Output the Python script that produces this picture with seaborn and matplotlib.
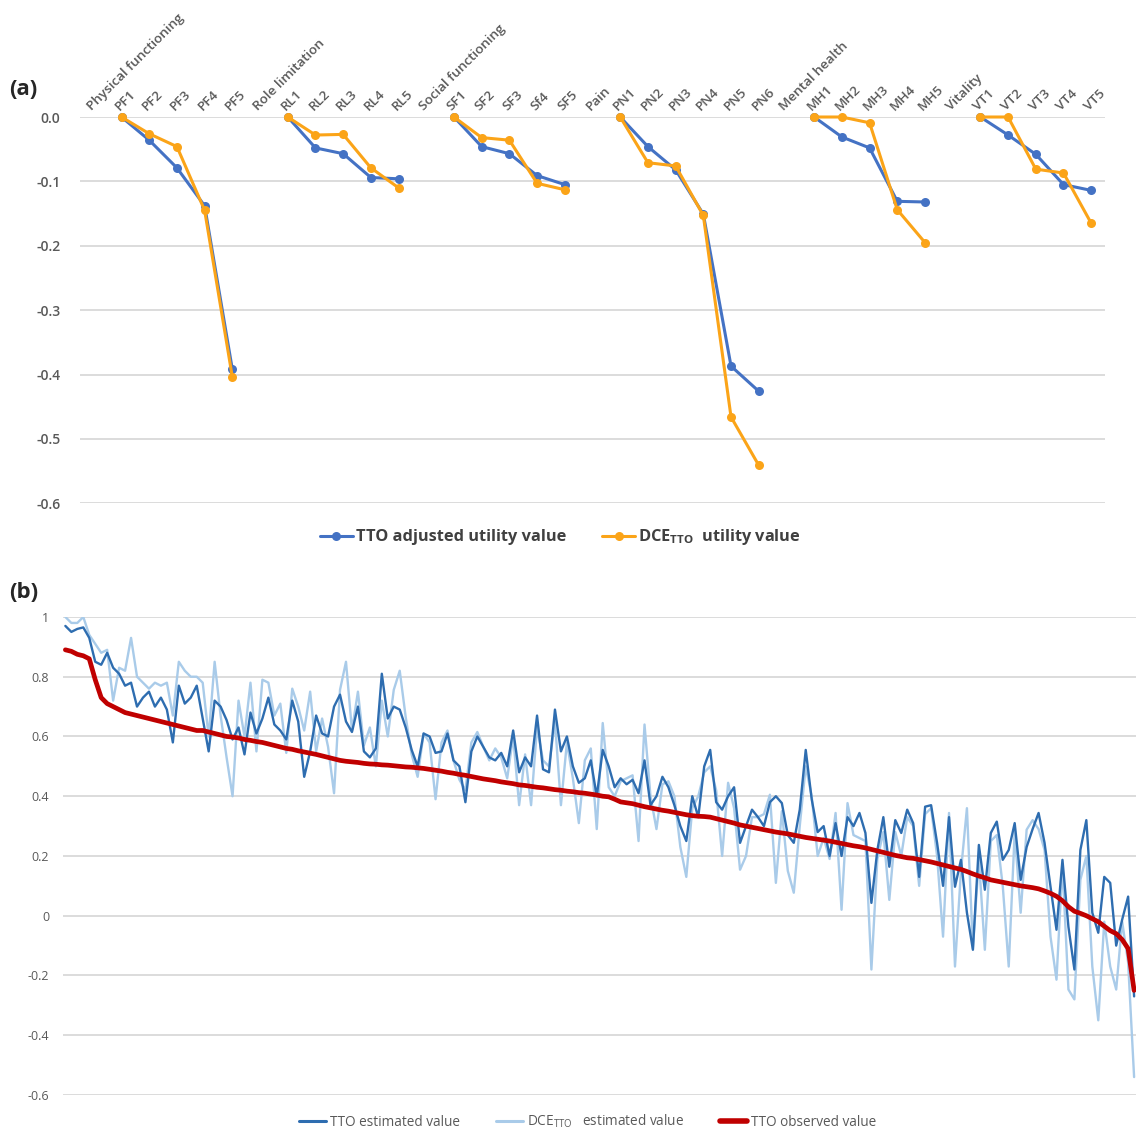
import numpy as np
import pandas as pd
import matplotlib
matplotlib.use("Agg")
import matplotlib.pyplot as plt
import matplotlib.transforms as mtransforms
from matplotlib.lines import Line2D
import seaborn as sns

# ---- panel (a): utility decrements per attribute level ----
dimensions = ["Physical functioning", "Role limitation", "Social functioning",
              "Pain", "Mental health", "Vitality"]
levels = [["PF1", "PF2", "PF3", "PF4", "PF5"],
          ["RL1", "RL2", "RL3", "RL4", "RL5"],
          ["SF1", "SF2", "SF3", "Sf4", "SF5"],
          ["PN1", "PN2", "PN3", "PN4", "PN5", "PN6"],
          ["MH1", "MH2", "MH3", "MH4", "MH5"],
          ["VT1", "VT2", "VT3", "VT4", "VT5"]]
tto_adjusted = [[0.0, -0.036, -0.079, -0.138, -0.392],
                [0.0, -0.048, -0.057, -0.094, -0.096],
                [0.0, -0.046, -0.057, -0.091, -0.105],
                [0.0, -0.046, -0.082, -0.151, -0.387, -0.426],
                [0.0, -0.031, -0.048, -0.131, -0.132],
                [0.0, -0.028, -0.058, -0.105, -0.114]]
dce_tto = [[0.0, -0.026, -0.046, -0.145, -0.404],
           [0.0, -0.028, -0.027, -0.079, -0.110],
           [0.0, -0.032, -0.036, -0.103, -0.113],
           [0.0, -0.071, -0.076, -0.153, -0.466, -0.541],
           [0.0, 0.0, -0.009, -0.144, -0.195],
           [0.0, 0.0, -0.081, -0.087, -0.165]]

# ---- panel (b): estimated vs observed values per health state ----
tto_estimated = [
    0.97, 0.95, 0.96, 0.965, 0.93, 0.85, 0.84, 0.88, 0.83, 0.81, 0.77, 0.78,
    0.70, 0.73, 0.75, 0.70, 0.73, 0.69, 0.58, 0.77, 0.71, 0.73, 0.77, 0.66, 0.55, 0.72, 0.70,
    0.655, 0.59, 0.63, 0.54, 0.68, 0.61, 0.66, 0.73, 0.64, 0.62, 0.59, 0.72, 0.65, 0.465,
    0.55, 0.67, 0.61, 0.60, 0.70, 0.74, 0.65, 0.615, 0.70, 0.55, 0.53, 0.56, 0.81, 0.66,
    0.70, 0.69, 0.63, 0.555, 0.50, 0.61, 0.60, 0.545, 0.55, 0.61, 0.52, 0.50, 0.38, 0.55,
    0.60, 0.565, 0.53,
    0.52, 0.545, 0.50, 0.62, 0.48, 0.53, 0.50, 0.67, 0.49, 0.48, 0.69, 0.55, 0.60, 0.50,
    0.445, 0.46, 0.52, 0.40, 0.555, 0.50, 0.43, 0.46, 0.44, 0.455, 0.41, 0.52, 0.37, 0.40,
    0.465, 0.43, 0.37, 0.30, 0.25, 0.40,
    0.33, 0.50, 0.555, 0.38, 0.355, 0.40, 0.43, 0.244, 0.30, 0.355, 0.33, 0.30, 0.38, 0.40,
    0.377, 0.27, 0.244, 0.355, 0.555, 0.39, 0.28, 0.30, 0.20, 0.31, 0.20, 0.33, 0.30, 0.344,
    0.277, 0.043, 0.22, 0.33, 0.164, 0.32, 0.277, 0.355,
    0.31, 0.13, 0.365, 0.37, 0.244, 0.10, 0.33, 0.097, 0.187, 0.01, -0.114, 0.237, 0.087,
    0.277, 0.315, 0.187, 0.22, 0.31, 0.12, 0.23, 0.29, 0.344, 0.244, 0.097, -0.047, 0.187,
    -0.037, -0.18, 0.22, 0.32, 0.01, -0.057, 0.13, 0.11, -0.10, -0.013, 0.064, -0.27]
dce_estimated = [
    1.0, 0.98, 0.98, 1.0, 0.94, 0.91, 0.88, 0.89, 0.72, 0.83, 0.82, 0.93,
    0.80, 0.78, 0.76, 0.78, 0.77, 0.78, 0.67, 0.85, 0.82, 0.80, 0.80, 0.78, 0.60, 0.85, 0.67,
    0.53, 0.40, 0.72, 0.60, 0.78, 0.55, 0.79, 0.78, 0.67, 0.71, 0.545, 0.76, 0.70, 0.62,
    0.75, 0.55, 0.66, 0.565, 0.41, 0.756, 0.85, 0.62, 0.75, 0.57, 0.63, 0.50, 0.72, 0.60,
    0.756, 0.82, 0.665, 0.54, 0.465, 0.61, 0.58, 0.39, 0.58, 0.62, 0.52, 0.455, 0.42, 0.58,
    0.615, 0.565, 0.52,
    0.56, 0.53, 0.46, 0.60, 0.37, 0.54, 0.37, 0.63, 0.52, 0.50, 0.65, 0.37, 0.58, 0.46,
    0.31, 0.52, 0.56, 0.29, 0.645, 0.43, 0.40, 0.45, 0.46, 0.47, 0.25, 0.64, 0.40, 0.29,
    0.44, 0.45, 0.40, 0.23, 0.13, 0.36,
    0.40, 0.48, 0.50, 0.42, 0.20, 0.445, 0.36, 0.154, 0.20, 0.33, 0.33, 0.34, 0.405, 0.11,
    0.35, 0.15, 0.077, 0.30, 0.50, 0.40, 0.20, 0.26, 0.19, 0.344, 0.02, 0.377, 0.27, 0.26,
    0.25, -0.18, 0.19, 0.28, 0.053, 0.28, 0.20, 0.33,
    0.30, 0.10, 0.34, 0.36, 0.20, -0.07, 0.344, -0.17, 0.15, 0.36, -0.11, 0.19, -0.114,
    0.25, 0.27, 0.10, -0.17, 0.28, 0.01, 0.288, 0.32, 0.29, 0.22, -0.07, -0.214, 0.17,
    -0.247, -0.28, 0.12, 0.20, -0.17, -0.35, -0.02, -0.17, -0.247, -0.02, -0.157, -0.54]
tto_observed = [
    0.89, 0.885, 0.875, 0.87, 0.86, 0.79, 0.73, 0.71, 0.70, 0.69, 0.68, 0.675,
    0.67, 0.665, 0.66, 0.655, 0.65, 0.645, 0.64, 0.635, 0.63, 0.625, 0.62, 0.62, 0.615, 0.61, 0.605,
    0.60, 0.598, 0.595, 0.59, 0.587, 0.583, 0.58, 0.575, 0.57, 0.565, 0.56, 0.557, 0.552, 0.548,
    0.544, 0.54, 0.535, 0.53, 0.525, 0.52, 0.517, 0.515, 0.513, 0.51, 0.508, 0.507, 0.505, 0.504,
    0.502, 0.50, 0.498, 0.497, 0.495, 0.493, 0.49, 0.487, 0.484, 0.48, 0.477, 0.473, 0.47, 0.466,
    0.462, 0.458, 0.455,
    0.452, 0.448, 0.445, 0.442, 0.438, 0.436, 0.433, 0.43, 0.428, 0.425, 0.422, 0.42, 0.417, 0.415,
    0.412, 0.41, 0.407, 0.404, 0.40, 0.398, 0.39, 0.381, 0.378, 0.375, 0.37, 0.365, 0.361, 0.357,
    0.353, 0.35, 0.346, 0.342, 0.338, 0.335,
    0.333, 0.332, 0.33, 0.325, 0.32, 0.315, 0.31, 0.304, 0.30, 0.296, 0.292, 0.288, 0.284, 0.28,
    0.277, 0.274, 0.27, 0.266, 0.262, 0.259, 0.256, 0.253, 0.25, 0.246, 0.242, 0.238, 0.234, 0.231,
    0.227, 0.222, 0.217, 0.212, 0.207, 0.202, 0.198, 0.194,
    0.192, 0.188, 0.184, 0.18, 0.175, 0.17, 0.165, 0.16, 0.155, 0.148, 0.14, 0.133, 0.127,
    0.12, 0.116, 0.112, 0.108, 0.104, 0.10, 0.097, 0.094, 0.09, 0.083, 0.075, 0.065, 0.05,
    0.03, 0.015, 0.008, 0.0, -0.01, -0.02, -0.035, -0.05, -0.06, -0.08, -0.11, -0.25]
b_ticks = [-0.6, -0.4, -0.2, 0.0, 0.2, 0.4, 0.6, 0.8, 1.0]
b_ticklabels = ["-0.6", "-0.4", "-0.2", "0", "0.2", "0.4", "0.6", "0.8", "1"]

BLUE = "#4472C4"
ORANGE = "#FBA418"
DARK = "#2E6DB0"
LIGHT = "#A9CBE9"
RED = "#C00000"
GRID = "#D9D9D9"
GREY = "#595959"

sns.set_theme(style="white")
plt.rcParams["font.family"] = ["Open Sans", "DejaVu Sans"]

# long table for panel (a), one unit per dimension so the lines break between groups
categories = []
rows = []
for dim, lv, t, d in zip(dimensions, levels, tto_adjusted, dce_tto):
    categories.append(dim)
    for code, tv, dv in zip(lv, t, d):
        pos = len(categories)
        categories.append(code)
        rows.append((pos, tv, "TTO", dim))
        rows.append((pos, dv, "DCE", dim))
df_a = pd.DataFrame(rows, columns=["pos", "value", "series", "dimension"])

fig = plt.figure(figsize=(11.39, 11.36), dpi=100)

# ---------------- panel (a) ----------------
ax_a = fig.add_axes([0.0702, 0.557, 0.900, 0.340])
sns.lineplot(data=df_a, x="pos", y="value", hue="series", units="dimension",
             estimator=None, hue_order=["TTO", "DCE"], palette=[BLUE, ORANGE],
             marker="o", markersize=6.5, markeredgewidth=0, linewidth=2.2,
             legend=False, ax=ax_a, clip_on=False)
ax_a.set_xlim(-0.5, len(categories) - 0.5)
ax_a.set_ylim(-0.6, 0.0)
a_ticks = [0.0, -0.1, -0.2, -0.3, -0.4, -0.5, -0.6]
ax_a.set_yticks(a_ticks)
ax_a.set_yticklabels([f"{abs(t):.1f}" if t == 0 else f"{t:.1f}" for t in a_ticks],
                     fontsize=10, color=GREY, fontweight="semibold")
ax_a.tick_params(axis="y", length=0, pad=14)
ax_a.set_xticks([])
ax_a.set_xlabel("")
ax_a.set_ylabel("")
ax_a.yaxis.grid(True, color=GRID, linewidth=1.3)
ax_a.set_axisbelow(True)
sns.despine(ax=ax_a, left=True, bottom=True)

# rotated category labels above the plot area
lab_tr = mtransforms.blended_transform_factory(ax_a.transData, ax_a.transAxes) + \
    mtransforms.ScaledTranslation(0.0, 0.04, fig.dpi_scale_trans)
for i, name in enumerate(categories):
    ax_a.text(i, 1.0, name, transform=lab_tr, rotation=45, rotation_mode="anchor",
              ha="left", va="bottom", fontsize=9.7, color=GREY, fontweight="semibold")

handles_a = [Line2D([], [], color=BLUE, lw=2.2, marker="o", ms=6.5, mew=0),
             Line2D([], [], color=ORANGE, lw=2.2, marker="o", ms=6.5, mew=0)]
fig.legend(handles_a, ["TTO adjusted utility value",
                       "DCE$_{\\mathregular{TTO}}$  utility value"],
           loc="center", bbox_to_anchor=(0.492, 0.527), ncol=2, frameon=False,
           handlelength=2.0, columnspacing=2.2, handletextpad=0.2,
           prop={"size": 11.8, "weight": "bold"}, labelcolor="#404040")

# ---------------- panel (b) ----------------
ax_b = fig.add_axes([0.0553, 0.0361, 0.9425, 0.4208])
idx = np.arange(len(tto_observed))
sns.lineplot(x=idx, y=dce_estimated, color=LIGHT, linewidth=1.7, ax=ax_b)
sns.lineplot(x=idx, y=tto_estimated, color=DARK, linewidth=1.7, ax=ax_b)
sns.lineplot(x=idx, y=tto_observed, color=RED, linewidth=3.4, ax=ax_b)
ax_b.set_xlim(-0.4, len(idx) - 0.6)
ax_b.set_ylim(-0.6, 1.0)
ax_b.set_yticks(b_ticks)
ax_b.set_yticklabels(b_ticklabels, fontsize=9, color=GREY)
ax_b.tick_params(axis="y", length=0, pad=10)
ax_b.set_xticks([])
ax_b.yaxis.grid(True, color=GRID, linewidth=1.3)
ax_b.set_axisbelow(True)
sns.despine(ax=ax_b, left=True, bottom=True)

handles_b = [Line2D([], [], color=DARK, lw=2.2),
             Line2D([], [], color=LIGHT, lw=2.2),
             Line2D([], [], color=RED, lw=4)]
fig.legend(handles_b, ["TTO estimated value",
                       "DCE$_{\\mathregular{TTO}}$   estimated value",
                       "TTO observed value"],
           loc="center", bbox_to_anchor=(0.516, 0.0125), ncol=3, frameon=False,
           handlelength=2.0, columnspacing=2.6, handletextpad=0.3,
           prop={"size": 9.8}, labelcolor=GREY)

fig.text(0.008, 0.921, "(a)", fontsize=16, fontweight="bold", va="center")
fig.text(0.008, 0.478, "(b)", fontsize=16, fontweight="bold", va="center")

fig.savefig("out.png", dpi=100)
